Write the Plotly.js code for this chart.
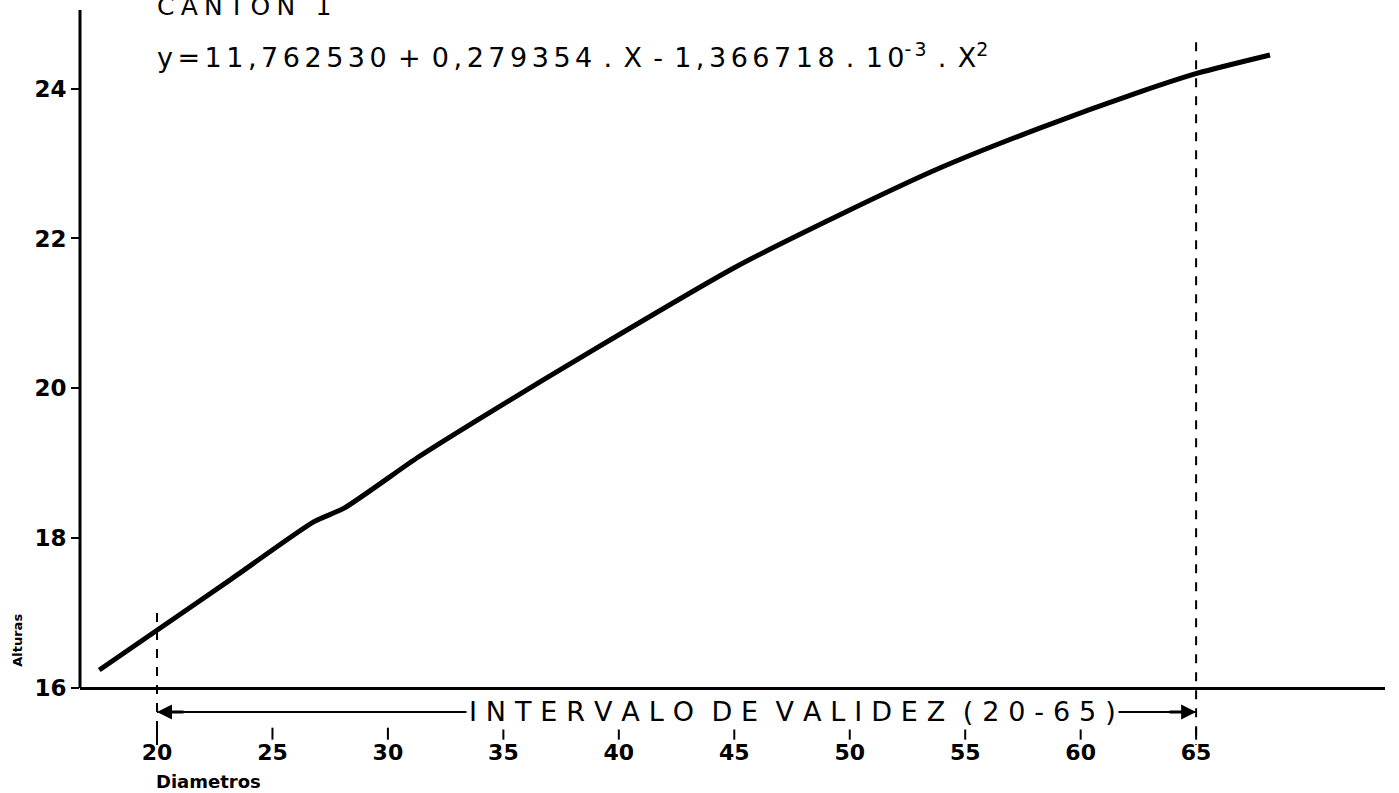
<!DOCTYPE html>
<html>
<head>
<meta charset="utf-8">
<script src="https://cdn.plot.ly/plotly-3.0.1.min.js"></script>
<style>html,body{margin:0;padding:0;background:#fff;}#chart{width:1399px;height:793px;}</style>
</head>
<body>
<div id="chart"></div>
<script>
// Curve (Diametros -> Alturas)
const diametros = [17.5, 20.0, 23.2, 26.8, 28.1, 31.3, 34.1, 39.1, 45.0, 49.6, 53.9, 58.2, 62.6, 65.1, 68.2];
const alturas   = [16.24, 16.77, 17.45, 18.22, 18.40, 19.08, 19.62, 20.55, 21.61, 22.32, 22.94, 23.47, 23.96, 24.21, 24.45];

const xTicks = [20, 25, 30, 35, 40, 45, 50, 55, 60, 65];
const yTicks = [16, 18, 20, 22, 24];

const validLow = 20;
const validHigh = 65;

const titleText = "CANTON 1";
const eqParts = ["y=", "11,762530", "+", "0,279354", ".", "X", "-", "1,366718", ".", "10", "-3", ".", "X", "2"];
const intervalText = "INTERVALO DE VALIDEZ (20-65)";
const xLabel = "Diametros";
const yLabel = "Alturas";

const F = "DejaVu Sans, Liberation Sans, sans-serif";
const X0 = 16.665, X1 = 73.18;
const Y0 = 14.598, Y1 = 25.05;
const AXIS_Y = 16;   // where the x axis line sits

// letter spacing helper
const sp = (s, sep) => s.split('').join(sep);
const S1 = '\u2006';
const GAP = '\u00a0\u200a';
const eq = eqParts.map((p, i) => {
  const t = sp(p, S1);
  if (i === 10 || i === 13) return '<sup>' + t + '</sup>';
  return t;
});
const equationText = eq[0] + S1 + eq[1] + GAP + eq[2] + GAP + eq[3] + GAP + eq[4] + GAP + eq[5] + GAP + eq[6] + GAP +
  eq[7] + GAP + eq[8] + GAP + eq[9] + eq[10] + GAP + eq[11] + GAP + eq[12] + eq[13];
const intervalSpaced = intervalText.split(' ').map(w => sp(w, '\u2004')).join('\u00a0\u2004');
const titleSpaced = sp(titleText, '\u2005');

// vertical levels below the axis (data units of the y axis)
const arrowY = 15.68;
const tickTop = 15.47, tickBot = 15.31;
const dashBot = 15.24;

const shapes = [];
// y axis line (only from the x axis upward)
shapes.push({type:'line', xref:'paper', yref:'y', x0:0, x1:0, y0:AXIS_Y, y1:Y1, line:{color:'black', width:3}});
// validity boundaries
shapes.push({type:'line', xref:'x', yref:'y', x0:validLow, x1:validLow, y0:17.0, y1:dashBot,
  line:{color:'black', width:2, dash:'dash'}});
shapes.push({type:'line', xref:'x', yref:'y', x0:validHigh, x1:validHigh, y0:24.62, y1:dashBot,
  line:{color:'black', width:2, dash:'dash'}});
// interval line
shapes.push({type:'line', xref:'x', yref:'y', x0:validLow, x1:validHigh, y0:arrowY, y1:arrowY,
  line:{color:'black', width:2}});
// small hand tick marks above the x labels
xTicks.forEach(v => {
  shapes.push({type:'line', xref:'x', yref:'y', x0:v, x1:v, y0:tickTop, y1:tickBot, line:{color:'black', width:2}});
});

const annotations = [
  {xref:'x', yref:'paper', x:validLow - 0.1, y:1.005, xanchor:'left', yanchor:'middle', showarrow:false,
   text:titleSpaced, font:{family:F, size:25, color:'black'}},
  {xref:'x', yref:'paper', x:validLow - 0.1, y:0.9425, xanchor:'left', yanchor:'middle', showarrow:false,
   text:equationText, font:{family:F, size:27, color:'black'}},
  {xref:'x', yref:'y', x:47.54, y:arrowY, xanchor:'center', yanchor:'middle', showarrow:false,
   text:intervalSpaced, bgcolor:'white', borderpad:2, font:{family:F, size:27, color:'black'}},
  {xref:'x', yref:'y', x:validLow, y:arrowY, ax:28, ay:0, showarrow:true, arrowhead:2, arrowsize:1, arrowwidth:3, text:'', arrowcolor:'black'},
  {xref:'x', yref:'y', x:validHigh, y:arrowY, ax:-28, ay:0, showarrow:true, arrowhead:2, arrowsize:1, arrowwidth:3, text:'', arrowcolor:'black'},
  {xref:'paper', yref:'y', x:-0.0475, y:16.63, xanchor:'center', yanchor:'middle', showarrow:false, textangle:-90,
   text:yLabel, font:{family:F, size:13, color:'black', weight:'bold'}},
  {xref:'x', yref:'y', x:22.25, y:14.745, xanchor:'center', yanchor:'middle', showarrow:false,
   text:xLabel, font:{family:F, size:18, color:'black', weight:'bold'}}
];

const trace = {
  x: diametros, y: alturas, type:'scatter', mode:'lines',
  line:{color:'black', width:5, shape:'spline', smoothing:0.6},
  hoverinfo:'skip'
};

const layout = {
  width:1399, height:793,
  margin:{l:80, r:14, t:10, b:0},
  paper_bgcolor:'white', plot_bgcolor:'white',
  showlegend:false,
  xaxis:{range:[X0, X1], anchor:'free', position:(AXIS_Y - Y0) / (Y1 - Y0),
    showline:true, linecolor:'black', linewidth:3, showgrid:false, zeroline:false,
    tickvals:xTicks, ticktext:xTicks.map(String), ticks:'', ticklabelstandoff:44,
    tickfont:{family:F, size:22, color:'black', weight:'bold'}},
  yaxis:{range:[Y0, Y1], showline:false, showgrid:false, zeroline:false,
    tickvals:yTicks, ticktext:yTicks.map(String), ticks:'outside', ticklen:8, tickwidth:2, tickcolor:'black',
    tickfont:{family:F, size:23, color:'black', weight:'bold'}},
  shapes: shapes,
  annotations: annotations
};

Plotly.newPlot('chart', [trace], layout, {displayModeBar:false, staticPlot:true});
</script>
</body>
</html>
